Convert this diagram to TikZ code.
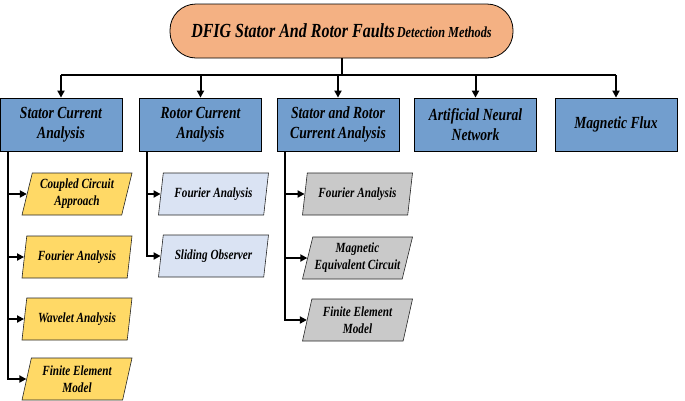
\documentclass[tikz,border=0pt]{standalone}
\usepackage{fontspec}
\setmainfont{Liberation Serif}[FakeStretch=0.8]
\usetikzlibrary{shapes.geometric,arrows.meta}

\definecolor{headorange}{RGB}{244,177,131}
\definecolor{methodblue}{RGB}{114,158,206}
\definecolor{subyellow}{RGB}{255,217,102}
\definecolor{subblue}{RGB}{218,227,243}
\definecolor{subgray}{RGB}{201,201,201}

\begin{document}
\begin{tikzpicture}[x=1pt, y=-1pt, font=\bfseries\itshape]

	\tikzset{
		head/.style={draw, thick, fill=headorange, rounded corners=26pt,
			minimum width=343pt, minimum height=54pt},
		method/.style={draw, thick, fill=methodblue, minimum width=122pt,
			minimum height=53pt, align=center,
			font=\bfseries\itshape\fontsize{17}{20}\selectfont},
		sub/.style={draw=black!85, semithick, trapezium, trapezium left angle=72,
			trapezium right angle=108, trapezium stretches body,
			minimum width=110pt, minimum height=42pt, inner sep=1pt, align=center,
			font=\bfseries\itshape\fontsize{14}{17}\selectfont},
		yel/.style={sub, fill=subyellow},
		pale/.style={sub, fill=subblue},
		grey/.style={sub, fill=subgray},
		link/.style={line width=2pt},
		arr/.style={link, -{Triangle[length=7pt,width=7pt]}}
	}

	\useasboundingbox (0,0) rectangle (685,400);

	% ---------------------------
	% Helper macro: one sub method hung off the trunk of a main box
	% (#1 main node, #2 index, #3 style, #4 x centre, #5 y centre, #6 text)
	% ---------------------------
	\newcommand{\submethod}[6]{%
		\node[#3] (#1-#2) at (#4,#5) {#6};
		\draw[arr] ([xshift=8pt]#1.south west) |- (#1-#2.west);
	}

	% ---------------------------
	% Title and main methods
	% ---------------------------
	\node[head] (top) at (341.5,31)
		{{\fontsize{20}{22}\selectfont DFIG Stator And Rotor Faults}
		 {\fontsize{15.3}{18}\selectfont Detection Methods}};

	\node[method] (sca) at (61,124.5) {Stator Current\\Analysis};
	\node[method] (rca) at (200.5,124.5) {Rotor Current\\Analysis};
	\node[method] (srca) at (338,124.5) {Stator and Rotor\\Current Analysis};
	\node[method] (ann) at (475.5,124.5) {Artificial Neural\\Network};
	\node[method] (mf) at (616,124.5) {Magnetic Flux};

	% bus line with arrows down
	\draw[link] (top.south) -- ++(0,17) coordinate (hub);
	\draw[link] (hub -| sca.north) -- (hub -| mf.north);
	\foreach \n in {sca,rca,srca,ann,mf}
		\draw[arr] (hub -| \n.north) -- (\n.north);

	% ---------------------------
	% Sub methods
	% ---------------------------
	% stator current
	\submethod{sca}{1}{yel}{77}{194}{Coupled Circuit\\Approach}
	\submethod{sca}{2}{yel}{77}{257}{Fourier Analysis}
	\submethod{sca}{3}{yel}{77}{319}{Wavelet Analysis}
	\submethod{sca}{4}{yel}{77}{379}{Finite Element\\Model}

	% rotor current
	\submethod{rca}{1}{pale}{213.5}{194}{Fourier Analysis}
	\submethod{rca}{2}{pale}{213.5}{256}{Sliding Observer}

	% stator and rotor current
	\submethod{srca}{1}{grey}{357.5}{194}{Fourier Analysis}
	\submethod{srca}{2}{grey}{357.5}{258}{Magnetic\\Equivalent Circuit}
	\submethod{srca}{3}{grey}{357.5}{320}{Finite Element\\Model}

\end{tikzpicture}
\end{document}
